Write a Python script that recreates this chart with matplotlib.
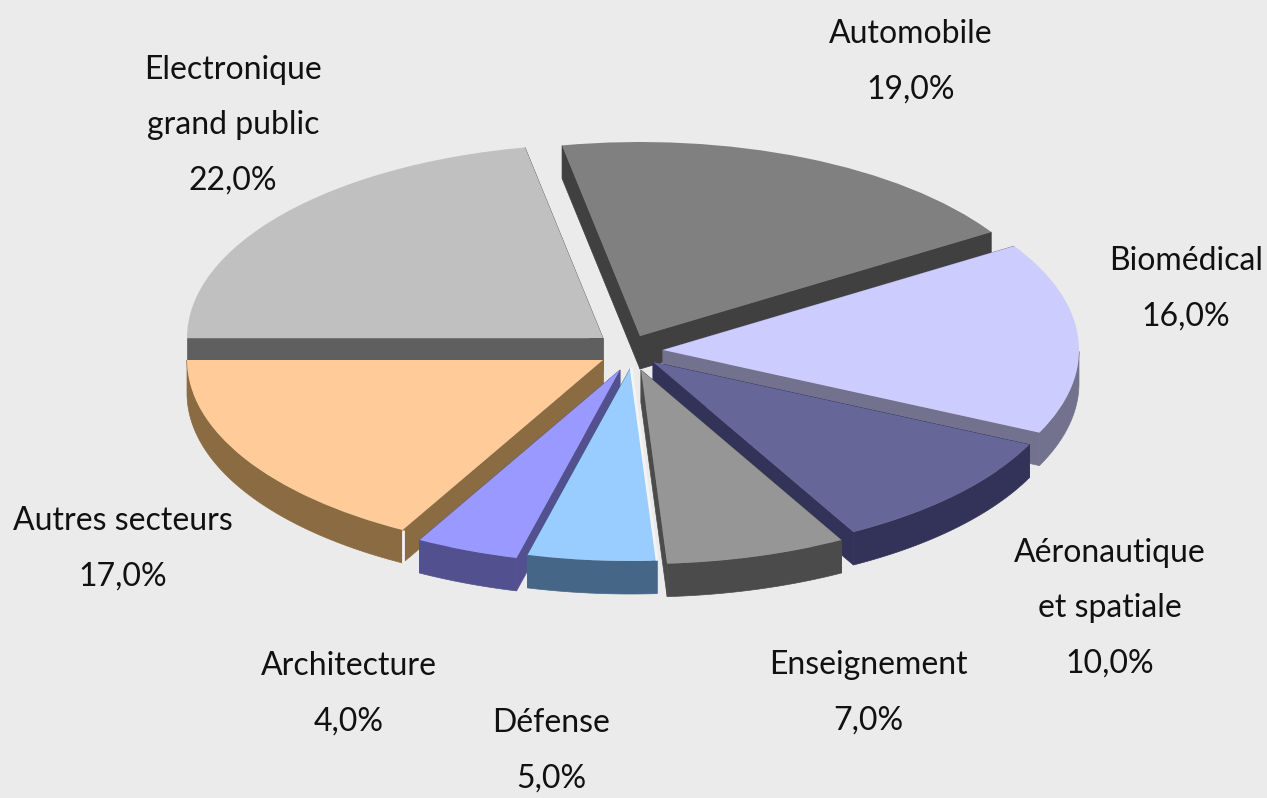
import numpy as np
import matplotlib
matplotlib.use("Agg")
import matplotlib.pyplot as plt
from matplotlib.patches import Wedge, Polygon
from matplotlib.transforms import Affine2D

# Data, clockwise from the Automobile slice
names = ["Automobile", "Biomédical", "Aéronautique\net spatiale", "Enseignement",
         "Défense", "Architecture", "Autres secteurs", "Electronique\ngrand public"]
shares = [19.0, 16.0, 10.0, 7.0, 5.0, 4.0, 17.0, 22.0]

# Styles and layout
top_colors = ["#808080", "#ccccff", "#666699", "#969696", "#99ccff", "#9999ff", "#ffcc99", "#c0c0c0"]
side_colors = ["#404040", "#72728f", "#333359", "#4b4b4b", "#466687", "#52508f", "#8a6b42", "#5f5f5f"]
apex_x = [640, 663, 653, 641, 631, 620, 603, 603]
apex_y = [336, 350, 362, 370, 367, 370, 360, 338]
label_x = [911, 1186, 1110, 868, 551, 349, 123, 233]
label_y = [62, 289, 608, 693, 751, 694, 549, 125]
draw_order = [0, 7, 1, 2, 3, 6, 5, 4]
highlighted = ["Autres secteurs", "Défense"]
start_angle = 100.8
rx, ry, depth = 416, 194, 33
bg = "#ebebeb"


def face_polygons(cx, cy, t1, t2):
    # the visible sides of one extruded slice, in data pixels
    t = np.radians(np.linspace(t1, t2, 80))
    x = cx + rx * np.cos(t)
    y = cy - ry * np.sin(t)
    cut1 = [(cx, cy), (x[0], y[0]), (x[0], y[0] + depth), (cx, cy + depth)]
    cut2 = [(cx, cy), (x[-1], y[-1]), (x[-1], y[-1] + depth), (cx, cy + depth)]
    faces = [cut1, cut2]
    # only the front of the rim shows
    front = np.sin(t) <= 0
    if front.sum() > 1:
        faces.append(np.r_[np.c_[x[front], y[front]], np.c_[x[front], y[front] + depth][::-1]])
    return faces


fig = plt.figure(figsize=(12.67, 7.98), dpi=100, facecolor=bg)
ax = fig.add_axes([0, 0, 1, 1])
ax.set_xlim(0, 1267)
ax.set_ylim(798, 0)
ax.axis("off")

ends = start_angle - np.cumsum(shares) * 3.6
starts = np.r_[start_angle, ends[:-1]]

for i in draw_order:
    for face in face_polygons(apex_x[i], apex_y[i], ends[i], starts[i]):
        ax.add_patch(Polygon(face, closed=True, fc=side_colors[i], ec=side_colors[i], lw=0.5))
    tr = Affine2D().scale(rx, -ry).translate(apex_x[i], apex_y[i]) + ax.transData
    ax.add_patch(Wedge((0, 0), 1, ends[i], starts[i], fc=top_colors[i], ec="none", transform=tr))

    # pale seams left in the original
    if names[i] == "Autres secteurs":
        a = np.radians(starts[i])
        sx = apex_x[i] + rx * np.cos(a)
        sy = apex_y[i] - ry * np.sin(a)
        ax.plot([sx, sx], [sy, sy + depth], color="#f4f4f4", lw=2, solid_capstyle="butt")
    if names[i] == "Défense":
        a = np.radians(ends[i] + shares[i] * 3.6)
        ax.plot([apex_x[i], apex_x[i] + rx * np.cos(a)], [apex_y[i], apex_y[i] - ry * np.sin(a)],
                color="#f4f4f4", lw=2, solid_capstyle="butt")

for i in range(len(names)):
    txt = names[i] + "\n" + f"{shares[i]:.1f}%".replace(".", ",")
    ax.text(label_x[i], label_y[i], txt, ha="center", va="center", color="#111111",
            fontsize=23, linespacing=2.05, family="Lato")

fig.savefig("out.png", dpi=100, facecolor=bg)
